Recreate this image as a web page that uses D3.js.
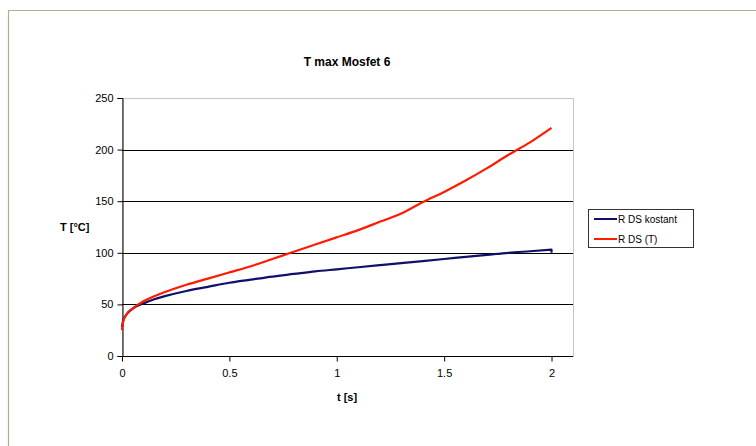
<!DOCTYPE html>
<html>
<head>
	<meta charset="UTF-8"/>
	<title>T max Mosfet 6</title>
	<style type="text/css">
		body {
		margin: 0;
		background: #fff;
		font-family: 'Liberation Sans', Arial, sans-serif;
		}
		svg {
		display: block;
		}
		text {
		fill: #000;
		}
		.grid line {
		stroke: #000;
		stroke-width: 1;
		}
		.axis path, .axis line {
		stroke: #000;
		}
		.axis text {
		font-size: 11px;
		font-family: 'Liberation Sans', Arial, sans-serif;
		}
		text.title {
		font-size: 12px;
		font-weight: bold;
		}
		text.label {
		font-size: 11px;
		font-weight: bold;
		}
		text.legend {
		font-size: 10px;
		}
	</style>
	<script src="https://d3js.org/d3.v7.min.js"></script>
</head>
<body>
	<svg width="756" height="446"></svg>
	<script>
		// values
		const tValues = [0, 0.005, 0.02, 0.05, 0.1, 0.15, 0.2, 0.3, 0.4, 0.5, 0.6, 0.7, 0.8, 0.9, 1.0,
			1.1, 1.2, 1.3, 1.4, 1.5, 1.6, 1.7, 1.8, 1.9, 2.0];
		const rdsKostant = [28, 34, 40, 46, 51, 55, 58, 63, 67, 71, 74, 77, 79.5, 82, 84,
			86, 88, 90, 92, 94, 96, 98, 100, 101.5, 103];
		const rdsT = [25, 33, 40, 46, 53, 58, 62, 69, 75, 81, 87, 94, 101, 108, 115,
			122, 130, 138, 149, 159, 170, 182, 195, 207, 221];
		// small drop at the very end of the blue curve
		const kostantEnd = [[2.0, 103], [2.0, 100]];
		const yTicks = [0, 50, 100, 150, 200, 250];
		const xTicks = [0, 0.5, 1, 1.5, 2];
		const seriesNames = ['R DS kostant', 'R DS (T)'];
		const seriesColors = ['#10106a', '#ff1a00'];

		const svg = d3.select('svg');

		// outer chart frame (only top and left visible in the picture)
		svg.append('path')
			.attr('d', 'M8.5,446 L8.5,10.5 L756,10.5')
			.attr('fill', 'none')
			.attr('stroke', '#b5ab8e')
			.attr('stroke-width', 1.2);

		const plotL = 122, plotT = 98, plotR = 573, plotB = 356;

		const x = d3.scaleLinear().domain([0, 2.1]).range([plotL, plotR]);
		const y = d3.scaleLinear().domain([0, 250]).range([plotB, plotT]);

		// plot area border (dotted gray)
		svg.append('rect')
			.attr('x', plotL + 0.5).attr('y', plotT + 0.5)
			.attr('width', plotR - plotL).attr('height', plotB - plotT)
			.attr('fill', 'none')
			.attr('stroke', '#888')
			.attr('stroke-dasharray', '1 1');

		// horizontal gridlines
		svg.append('g').attr('class', 'grid')
			.selectAll('line')
			.data(yTicks.filter(d => d > 0 && d < 250))
			.join('line')
			.attr('x1', plotL).attr('x2', plotR)
			.attr('y1', d => Math.round(y(d)) + 0.5)
			.attr('y2', d => Math.round(y(d)) + 0.5);

		// axes
		svg.append('g').attr('class', 'axis')
			.attr('transform', `translate(${plotL + 0.5},0)`)
			.call(d3.axisLeft(y).tickValues(yTicks).tickSize(5).tickPadding(4).tickFormat(d3.format('d')));

		svg.append('g').attr('class', 'axis')
			.attr('transform', `translate(0,${plotB + 0.5})`)
			.call(d3.axisBottom(x).tickValues(xTicks).tickSize(5).tickPadding(8).tickFormat(d => String(d)))
			.call(g => g.select('.domain').attr('d', `M${plotL},0H${plotR}`));

		// curves
		const smooth = d3.line().x(d => x(d[0])).y(d => y(d[1])).curve(d3.curveMonotoneX);
		const straight = d3.line().x(d => x(d[0])).y(d => y(d[1]));
		const kostantPts = tValues.map((t, i) => [t, rdsKostant[i]]);
		const rdsTPts = tValues.map((t, i) => [t, rdsT[i]]);

		svg.append('path')
			.attr('d', smooth(kostantPts) + straight(kostantEnd).replace('M', 'L'))
			.attr('fill', 'none')
			.attr('stroke', seriesColors[0])
			.attr('stroke-width', 2.2)
			.attr('stroke-linejoin', 'round');

		svg.append('path')
			.attr('d', smooth(rdsTPts))
			.attr('fill', 'none')
			.attr('stroke', seriesColors[1])
			.attr('stroke-width', 2.2);

		// title and axis labels
		svg.append('text').attr('class', 'title')
			.attr('x', 347).attr('y', 66)
			.attr('text-anchor', 'middle')
			.text('T max Mosfet 6');

		svg.append('text').attr('class', 'label')
			.attr('x', 60).attr('y', 231)
			.text('T [°C]');

		svg.append('text').attr('class', 'label')
			.attr('x', 347).attr('y', 401)
			.attr('text-anchor', 'middle')
			.text('t [s]');

		// legend
		const legend = svg.append('g').attr('transform', 'translate(588,209)');
		legend.append('rect')
			.attr('x', 0.5).attr('y', 0.5)
			.attr('width', 105).attr('height', 38)
			.attr('fill', '#fff')
			.attr('stroke', '#333');
		seriesNames.forEach((name, i) => {
			const ly = 10 + i * 20;
			legend.append('line')
				.attr('x1', 6).attr('x2', 29)
				.attr('y1', ly).attr('y2', ly)
				.attr('stroke', seriesColors[i])
				.attr('stroke-width', 2);
			legend.append('text').attr('class', 'legend')
				.attr('x', 30).attr('y', ly + 3.5)
				.text(name);
		});
	</script>
</body>
</html>
